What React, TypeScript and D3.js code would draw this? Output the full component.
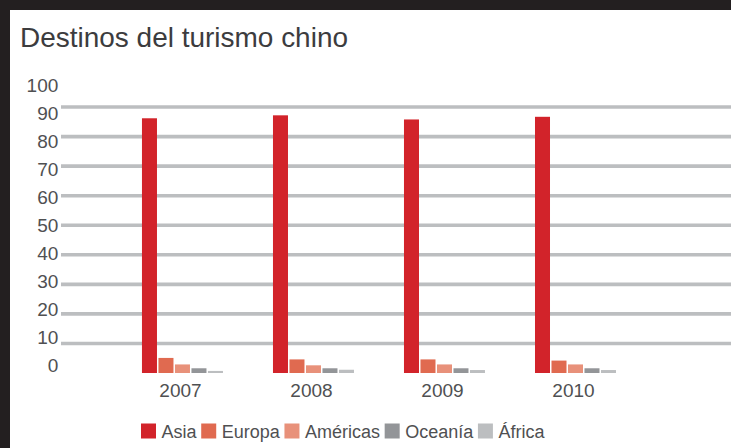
import React from "react";
import * as d3 from "d3";

const years = ["2007", "2008", "2009", "2010"];
const series = ["Asia", "Europa", "Américas", "Oceanía", "África"];
const colors = ["#d2232a", "#e06a50", "#e8917a", "#939598", "#bcbec0"];
const asia = [86.2, 87.2, 85.8, 86.7];
const europa = [5.1, 4.6, 4.6, 4.2];
const americas = [2.9, 2.6, 2.9, 2.9];
const oceania = [1.6, 1.6, 1.6, 1.6];
const africa = [0.7, 1.1, 1.0, 1.0];
const seriesValues = [asia, europa, americas, oceania, africa];
const gridTicks = [10, 20, 30, 40, 50, 60, 70, 80, 90];
const labelTicks = [0, 10, 20, 30, 40, 50, 60, 70, 80, 90, 100];
const title = "Destinos del turismo chino";

const W = 731;
const H = 448;
const FONT = "'Liberation Sans', Arial, Helvetica, sans-serif";

function measure(text: string, size: number): number {
  const c = document.createElement("canvas").getContext("2d");
  if (!c) return text.length * size * 0.5;
  c.font = `${size}px 'Liberation Sans', Arial, sans-serif`;
  return c.measureText(text).width;
}

export default function App() {
  const y = d3.scaleLinear().domain([0, 100]).range([373, 77.5]);
  const yLabel = d3.scaleLinear().domain([0, 100]).range([371.8, 91.8]);
  const x = d3
    .scaleBand<string>()
    .domain(years)
    .range([91, 666])
    .paddingInner(0.389)
    .paddingOuter(0.389);
  const xs = d3
    .scaleBand<string>()
    .domain(series)
    .range([0, 81])
    .paddingInner(0.09);

  let lx = 141;
  const legendItems = series.map((s, i) => {
    const item = { s, i, x: lx };
    lx += 15 + 5.5 + measure(s, 18) + 4.7;
    return item;
  });

  return (
    <svg
      width={W}
      height={H}
      style={{ position: "absolute", left: 0, top: 0, display: "block" }}
      fontFamily={FONT}
    >
      <rect x={0} y={0} width={W} height={H} fill="#ffffff" />
      <rect x={0} y={0} width={W} height={10} fill="#231f20" />
      <rect x={0} y={0} width={10} height={H} fill="#231f20" />

      <text x={20} y={46.5} fontSize={28} fill="#3c3c3e" textLength={328} lengthAdjust="spacingAndGlyphs">
        {title}
      </text>

      {gridTicks.map((t) => (
        <line
          key={t}
          x1={61}
          x2={W}
          y1={y(t)}
          y2={y(t)}
          stroke="#bcbec0"
          strokeWidth={3.6}
        />
      ))}

      {labelTicks.map((t) => (
        <text
          key={t}
          x={58.3}
          y={yLabel(t)}
          textAnchor="end"
          fontSize={19}
          fill="#4f5052"
        >
          {t}
        </text>
      ))}

      {years.map((yr, yi) => (
        <g key={yr} transform={`translate(${x(yr)},0)`}>
          {series.map((s, si) => {
            const v = seriesValues[si][yi];
            return (
              <rect
                key={s}
                x={xs(s)}
                y={y(v)}
                width={xs.bandwidth()}
                height={y(0) - y(v)}
                fill={colors[si]}
              />
            );
          })}
          <text
            x={x.bandwidth() / 2 - 1.5}
            y={396.5}
            textAnchor="middle"
            fontSize={19}
            fill="#4f5052"
          >
            {yr}
          </text>
        </g>
      ))}

      {legendItems.map((it) => (
        <g key={it.s} transform={`translate(${it.x},0)`}>
          <rect x={0} y={423.5} width={15} height={15} fill={colors[it.i]} />
          <text x={20.5} y={437.5} fontSize={18} fill="#4f5052">
            {it.s}
          </text>
        </g>
      ))}
    </svg>
  );
}
